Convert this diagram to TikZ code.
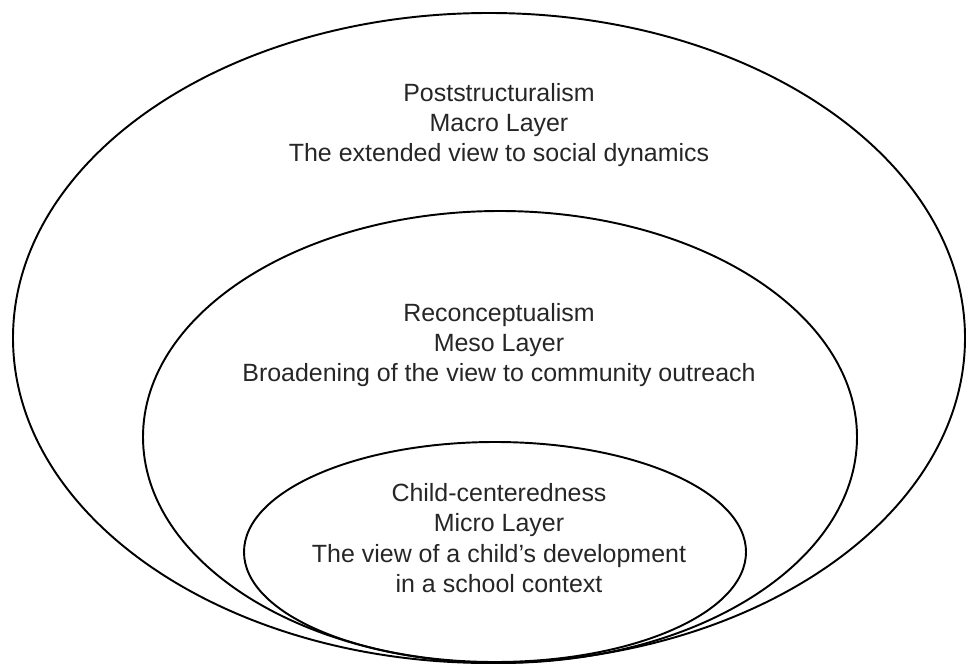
\documentclass[tikz,border=0pt]{standalone}
\usepackage{fontspec}
\setmainfont{Liberation Sans}
\usepackage{tikz}
\usetikzlibrary{positioning}

\begin{document}
\begin{tikzpicture}[
  line cap=round,
  line join=round,
  layer/.style={black,line width=1.1pt},
  layertext/.style={align=center,text=black!85,inner sep=0pt,
    font=\fontsize{14.2}{17.3}\selectfont}
]
\path[use as bounding box] (0,0) rectangle (19.32,13.36);

% the three layers, outermost first
\draw[layer] (9.78,6.60) ellipse [x radius=9.52,y radius=6.50];
\draw[layer] (10.00,4.62) ellipse [x radius=7.14,y radius=4.52];
\draw[layer] (9.90,2.32) ellipse [x radius=5.02,y radius=2.20];

\node[layertext] (macro) at (9.98,10.86)
  {Poststructuralism\\Macro Layer\\The extended view to social dynamics};
\node[layertext] (meso) at (9.98,6.46)
  {Reconceptualism\\Meso Layer\\Broadening of the view to community outreach};
\node[layertext] (micro) at (9.98,2.60)
  {Child-centeredness\\Micro Layer\\The view of a child’s development\\in a school context};
\end{tikzpicture}
\end{document}
